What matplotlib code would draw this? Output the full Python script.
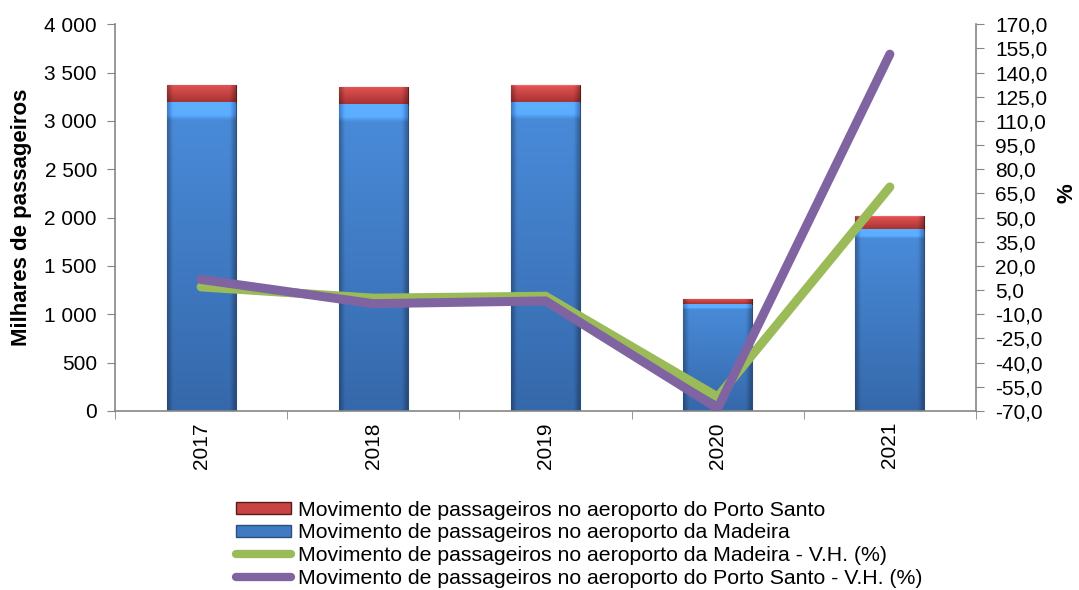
import numpy as np
import matplotlib
matplotlib.use("Agg")
import matplotlib.pyplot as plt
from matplotlib.patches import Patch
from matplotlib.lines import Line2D
from matplotlib.ticker import FuncFormatter, FixedLocator

plt.rcParams['font.family'] = ['Liberation Sans', 'DejaVu Sans']

# data (milhares de passageiros and V.H. %)
anos = ["2017", "2018", "2019", "2020", "2021"]
madeira = [3194, 3170, 3198, 1110, 1885]
porto_santo = [180, 176, 170, 52, 131]
vh_madeira = [7.0, 0.0, 1.2, -61.3, 69.0]
vh_porto_santo = [11.6, -3.4, -1.7, -68.3, 151.4]

lab_ps = "Movimento de passageiros no aeroporto do Porto Santo"
lab_ma = "Movimento de passageiros no aeroporto da Madeira"
lab_vma = "Movimento de passageiros no aeroporto da Madeira - V.H. (%)"
lab_vps = "Movimento de passageiros no aeroporto do Porto Santo - V.H. (%)"

blue_top = np.array([0.29, 0.55, 0.86])
blue_bot = np.array([0.21, 0.41, 0.67])
red_top = np.array([0.90, 0.33, 0.33])
red_bot = np.array([0.66, 0.20, 0.20])
green = "#9bbb59"
purple = "#8064a2"
gray = "#868686"

fig = plt.figure(figsize=(10.79, 5.90), dpi=100)
ax = fig.add_axes([0.1066, 0.3034, 0.7979, 0.6556])
ax2 = ax.twinx()

x = np.arange(len(anos))
w = 0.4


def shade(bars, ctop, cbot):
    # gradient fill clipped to each bar
    for b in bars:
        x0, y0 = b.get_x(), b.get_y()
        bw, bh = b.get_width(), b.get_height()
        ny, nx = 60, 40
        t = np.linspace(1, 0, ny)[:, None, None]
        col = cbot + (ctop - cbot) * t
        xs = np.linspace(0, 1, nx)
        edge = 1 - 0.28 * (np.clip(1 - np.minimum(xs, 1 - xs) / 0.08, 0, 1))
        img = col * edge[None, :, None]
        img[:3] = np.clip(img[:3] * 1.25, 0, 1)
        im = ax.imshow(img, extent=[x0, x0 + bw, y0, y0 + bh], origin="upper",
                       aspect="auto", zorder=2, interpolation="bilinear")
        im.set_clip_path(b)


b1 = ax.bar(x, madeira, w, color=blue_bot, edgecolor="#2c4f80", linewidth=0.8, zorder=1)
b2 = ax.bar(x, porto_santo, w, bottom=madeira, color=red_bot, edgecolor="#5a1a1a", linewidth=0.8, zorder=1)
shade(b1, blue_top, blue_bot)
shade(b2, red_top, red_bot)

ax2.plot(x, vh_madeira, color=green, lw=6.5, solid_capstyle="round", solid_joinstyle="round", zorder=3)
ax2.plot(x, vh_porto_santo, color=purple, lw=6.5, solid_capstyle="round", solid_joinstyle="round", zorder=4)

ax.set_xlim(-0.5, len(anos) - 0.5)
ax.set_ylim(0, 4000)
ax.set_yticks(np.arange(0, 4001, 500))
ax.yaxis.set_major_formatter(FuncFormatter(lambda v, p: f"{v:,.0f}".replace(",", " ")))
ax2.set_ylim(-70, 170)
ax2.set_yticks(np.arange(-70, 171, 15))
ax2.yaxis.set_major_formatter(FuncFormatter(lambda v, p: f"{v:.1f}".replace(".", ",")))

ax.set_xticks(x)
ax.set_xticklabels(anos, rotation=90)
ax.xaxis.set_minor_locator(FixedLocator(np.arange(-0.5, len(anos), 1.0)))
ax.tick_params(axis="x", which="major", length=0, pad=8, labelsize=15)
ax.tick_params(axis="x", which="minor", length=6, color=gray)
ax.tick_params(axis="y", length=6, color=gray, labelsize=15, pad=7)
ax2.tick_params(axis="y", length=6, color=gray, labelsize=15, pad=8)

for a in (ax, ax2):
    a.spines["top"].set_visible(False)
    for s in ("left", "right", "bottom"):
        a.spines[s].set_color(gray)
        a.spines[s].set_linewidth(1.2)
ax.spines["right"].set_visible(False)
ax2.spines["left"].set_visible(False)
ax2.spines["bottom"].set_visible(False)

ax.set_ylabel("Milhares de passageiros", fontsize=16, fontweight="bold")
ax.yaxis.set_label_coords(-0.096, 0.5)
ax2.set_ylabel("%", fontsize=16, fontweight="bold")
ax2.yaxis.set_label_coords(1.093, 0.563)

handles = [
    Patch(facecolor=(red_top + red_bot) / 2, edgecolor="#5a1a1a"),
    Patch(facecolor=(blue_top + blue_bot) / 2, edgecolor="#2c4f80"),
    Line2D([], [], color=green, lw=6, solid_capstyle="round"),
    Line2D([], [], color=purple, lw=6, solid_capstyle="round"),
]
fig.legend(handles, [lab_ps, lab_ma, lab_vma, lab_vps], loc="lower left",
           bbox_to_anchor=(236 / 1079, 2 / 590), frameon=False, fontsize=15.3,
           handlelength=2.6, handleheight=0.5, handletextpad=0.3,
           labelspacing=0.18, borderpad=0, borderaxespad=0)

fig.savefig("out.png", dpi=100)
